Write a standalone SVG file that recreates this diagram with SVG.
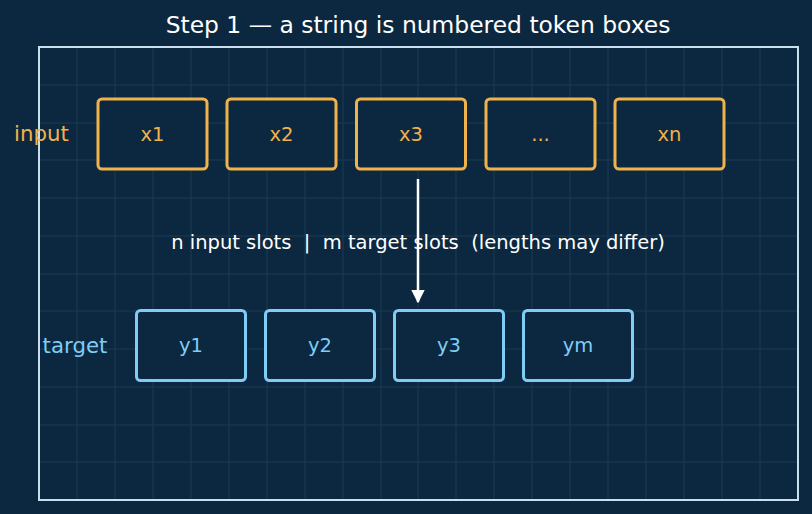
<svg xmlns="http://www.w3.org/2000/svg" width="812" height="514" viewBox="0 0 812 514">
<defs>
<style>
text{font-family:"DejaVu Sans","Liberation Sans",sans-serif;}
.grid line{stroke:#1c3a55;stroke-width:1;}
.in rect{fill:#0c2840;stroke:#f0b24a;stroke-width:3;}
.in text{fill:#f0b24a;font-size:19.5px;text-anchor:middle;dominant-baseline:central;}
.tg rect{fill:#0c2840;stroke:#7fcdf5;stroke-width:3;}
.tg text{fill:#7fcdf5;font-size:19.5px;text-anchor:middle;dominant-baseline:central;}
</style>
<marker id="ah" viewBox="0 0 10 10" refX="9" refY="5" markerWidth="5.5" markerHeight="5.5" orient="auto" markerUnits="strokeWidth">
<path d="M0,0 L10,5 L0,10 z" fill="#ffffff"/>
</marker>
</defs>
<rect width="812" height="514" fill="#0c2840"/>
<text x="418" y="25" font-size="23.4" fill="#ffffff" text-anchor="middle" dominant-baseline="central">Step 1 — a string is numbered token boxes</text>
<g class="grid">
<line x1="77" y1="47" x2="77" y2="500"/><line x1="115" y1="47" x2="115" y2="500"/><line x1="153" y1="47" x2="153" y2="500"/><line x1="191" y1="47" x2="191" y2="500"/><line x1="229" y1="47" x2="229" y2="500"/><line x1="267" y1="47" x2="267" y2="500"/><line x1="305" y1="47" x2="305" y2="500"/><line x1="343" y1="47" x2="343" y2="500"/><line x1="381" y1="47" x2="381" y2="500"/><line x1="418" y1="47" x2="418" y2="500"/><line x1="456" y1="47" x2="456" y2="500"/><line x1="494" y1="47" x2="494" y2="500"/><line x1="532" y1="47" x2="532" y2="500"/><line x1="570" y1="47" x2="570" y2="500"/><line x1="608" y1="47" x2="608" y2="500"/><line x1="646" y1="47" x2="646" y2="500"/><line x1="684" y1="47" x2="684" y2="500"/><line x1="722" y1="47" x2="722" y2="500"/><line x1="760" y1="47" x2="760" y2="500"/>
<line x1="39" y1="85" x2="798" y2="85"/><line x1="39" y1="123" x2="798" y2="123"/><line x1="39" y1="160" x2="798" y2="160"/><line x1="39" y1="198" x2="798" y2="198"/><line x1="39" y1="236" x2="798" y2="236"/><line x1="39" y1="274" x2="798" y2="274"/><line x1="39" y1="311" x2="798" y2="311"/><line x1="39" y1="349" x2="798" y2="349"/><line x1="39" y1="387" x2="798" y2="387"/><line x1="39" y1="425" x2="798" y2="425"/><line x1="39" y1="462" x2="798" y2="462"/>
</g>
<rect x="39" y="47" width="759" height="453" fill="none" stroke="#c9deef" stroke-width="2"/>
<text x="41.5" y="133" font-size="21.3" fill="#f0b24a" text-anchor="middle" dominant-baseline="central">input</text>
<text x="75" y="345" font-size="21.3" fill="#7fcdf5" text-anchor="middle" dominant-baseline="central">target</text>
<g id="x1" class="in"><rect x="98" y="99" width="109" height="70" rx="4"/><text x="152.5" y="134">x1</text></g>
<g id="x2" class="in"><rect x="227" y="99" width="109" height="70" rx="4"/><text x="281.5" y="134">x2</text></g>
<g id="x3" class="in"><rect x="356.5" y="99" width="109" height="70" rx="4"/><text x="411" y="134">x3</text></g>
<g id="xdots" class="in"><rect x="486" y="99" width="109" height="70" rx="4"/><text x="540.5" y="134">...</text></g>
<g id="xn" class="in"><rect x="615" y="99" width="109" height="70" rx="4"/><text x="669.5" y="134">xn</text></g>
<g id="y1" class="tg"><rect x="136.5" y="310.5" width="109" height="70" rx="4"/><text x="191" y="345">y1</text></g>
<g id="y2" class="tg"><rect x="265.5" y="310.5" width="109" height="70" rx="4"/><text x="320" y="345">y2</text></g>
<g id="y3" class="tg"><rect x="394.5" y="310.5" width="109" height="70" rx="4"/><text x="449" y="345">y3</text></g>
<g id="ym" class="tg"><rect x="523.5" y="310.5" width="109" height="70" rx="4"/><text x="578" y="345">ym</text></g>
<text x="418" y="242" font-size="19.5" fill="#ffffff" text-anchor="middle" dominant-baseline="central" xml:space="preserve">n input slots  |  m target slots  (lengths may differ)</text>
<g id="connectors">
<line x1="418" y1="179" x2="418" y2="302" stroke="#ffffff" stroke-width="2.5" marker-end="url(#ah)"/>
</g>
</svg>
